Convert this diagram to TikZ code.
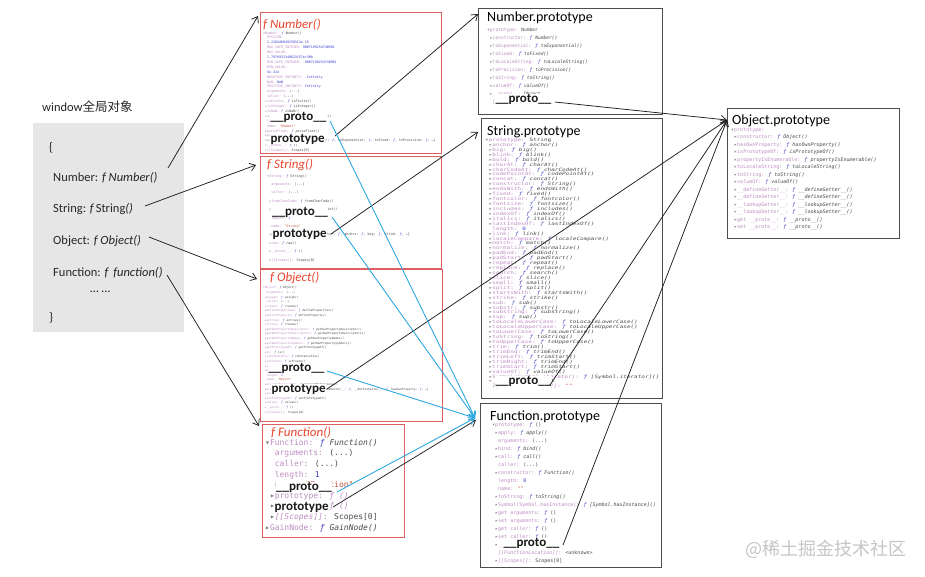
\documentclass[tikz,border=0pt]{standalone}
\usepackage{fontspec}
\setmainfont{Carlito}
\newfontfamily\cjk{Noto Sans CJK SC}
\newfontfamily\cons{DejaVu Sans Mono}
\newfontfamily\consW[FakeStretch=1.33]{DejaVu Sans Mono}
\usetikzlibrary{arrows.meta}
\definecolor{keyc}{HTML}{BE8CC4}
\definecolor{valc}{HTML}{4A4A4A}
\definecolor{fnc}{HTML}{4040C0}
\definecolor{numc}{HTML}{3C3CD2}
\definecolor{strc}{HTML}{C8503C}
\definecolor{trc}{HTML}{7A7A7A}
\definecolor{redbox}{HTML}{DE5F5F}
\definecolor{redtitle}{HTML}{E8452E}
\definecolor{greybox}{HTML}{E6E6E6}
\definecolor{blueline}{HTML}{2EA8E0}
\definecolor{darkbox}{HTML}{4D4D4D}
\definecolor{arrc}{HTML}{1E1E1E}
\definecolor{wmark}{HTML}{C6C6C6}
\newcommand\pK[1]{\textcolor{keyc}{#1}}
\newcommand\pN[1]{\textcolor{numc}{#1}}
\newcommand\pS[1]{\textcolor{strc}{#1}}
\newcommand\fF{\textcolor{fnc}{\textit{ƒ}}}
\newcommand\tR{\textcolor{trc}{▸}}
\newcommand\tD{\textcolor{trc}{▾}}
\newcommand\cI{\hphantom{0}}
\newcommand\pFn[2]{\cI\tR\pK{#1:} \fF\ \textit{#2()}}
\newcommand\pLf[2]{\cI\cI\pK{#1:} #2}
\newcommand\pOb[2]{\cI\tR\pK{#1:} #2}
\tikzset{
  redbx/.style={draw=redbox, line width=1.4pt, anchor=north west, inner sep=0pt},
  blkbx/.style={draw=darkbox, line width=1.1pt, anchor=north west, inner sep=0pt},
  ftitle/.style={anchor=base west, inner sep=0pt, text=redtitle, font=\fontsize{13}{15}\selectfont\itshape},
  ptitle/.style={anchor=base west, inner sep=0pt, text=black, font=\fontsize{14}{17}\selectfont},
  biglbl/.style={anchor=base west, inner sep=0.4pt, fill=white, text=black!90, font=\fontsize{13}{15}\selectfont\bfseries},
  wtext/.style={anchor=base west, inner sep=0pt, text=black!85, font=\fontsize{12.5}{15}\selectfont},
  cons/.style={anchor=north west, inner sep=0pt, align=left, text=valc},
  arr/.style={draw=arrc, line width=0.75pt, -{Straight Barb[length=5.5pt,width=8pt]}},
  barr/.style={draw=blueline, line width=0.9pt, -{Straight Barb[length=5.5pt,width=8pt]}},
}
\begin{document}
\begin{tikzpicture}[x=1pt,y=-1pt]
\useasboundingbox[fill=white] (0,0) rectangle (925,576);

% ---------- window object ----------
\node[wtext] (wTitle) at (42,111) {window{\cjk 全局对象}};
\node[fill=greybox, anchor=north west, inner sep=0pt, minimum width=151pt, minimum height=209pt] (win) at (33,123) {};
\node[wtext] (wOpen) at (49,151) {\{};
\node[wtext] (wNum) at (53,181.5) {Number: \textit{f Number()}};
\node[wtext] (wStr) at (53,212.7) {String: \textit{f\,}String\textit{()}};
\node[wtext] (wObj) at (53,244) {Object: \textit{f Object()}};
\node[wtext] (wFun) at (53,276.7) {Function: \textit{f\, function()}};
\node[wtext] (wDots) at (90,292) {… …};
\node[wtext] (wClose) at (49,321) {\}};

% ---------- constructor boxes ----------
\node[redbx, minimum width=181pt, minimum height=141pt] (numF) at (260,12) {};
\node[redbx, minimum width=181pt, minimum height=112pt] (strF) at (260,156) {};
\node[redbx, minimum width=182pt, minimum height=152pt] (objF) at (260,269) {};
\node[redbx, minimum width=142pt, minimum height=113pt] (funF) at (262,424) {};

\node[ftitle] (numT) at (263,28) {f Number()};
\node[ftitle] (strT) at (267,168.3) {f String()};
\node[ftitle] (objT) at (270,281.7) {f Object()};
\node[ftitle] (funT) at (271,436.7) {f Function()};

\node[cons, font=\cons\fontsize{3.3}{4.9}\selectfont] (numC) at (263,31.3) {%
\tD\pK{Number:} \fF\ \textit{Number()}\\
\pLf{EPSILON}{}\\
\cI\cI\pN{2.220446049250313e-16}\\
\pLf{MAX\_SAFE\_INTEGER}{\pN{9007199254740991}}\\
\pLf{MAX\_VALUE}{}\\
\cI\cI\pN{1.7976931348623157e+308}\\
\pLf{MIN\_SAFE\_INTEGER}{\pN{-9007199254740991}}\\
\pLf{MIN\_VALUE}{}\\
\cI\cI\pN{5e-324}\\
\pLf{NEGATIVE\_INFINITY}{\pN{-Infinity}}\\
\pLf{NaN}{\pN{NaN}}\\
\pLf{POSITIVE\_INFINITY}{\pN{Infinity}}\\
\pLf{arguments}{(...)}\\
\pLf{caller}{(...)}\\
\pFn{isFinite}{isFinite}\\
\pFn{isInteger}{isInteger}\\
\pFn{isNaN}{isNaN}\\
\pFn{isSafeInteger}{isSafeInteger}\\
\pLf{length}{\pN{1}}\\
\pLf{name}{\pS{"Number"}}\\
\pFn{parseFloat}{parseFloat}\\
\pFn{parseInt}{parseInt}\\
\pOb{prototype}{Number \{constructor: \fF, toExponential: \fF, toFixed: \fF, toPrecision: \fF, …\}}\\
\pOb{\_\_proto\_\_}{\fF\ ()}\\
\pOb{[[Scopes]]}{Scopes[0]}};

\node[cons, font=\cons\fontsize{3.4}{8.4}\selectfont] (strC) at (267,174.3) {%
\tD\pK{String:} \fF\ \textit{String()}\\
\pLf{arguments}{(...)}\\
\pLf{caller}{(...)}\\
\pFn{fromCharCode}{fromCharCode}\\
\pFn{fromCodePoint}{fromCodePoint}\\
\pLf{length}{\pN{1}}\\
\pLf{name}{\pS{"String"}}\\
\pOb{prototype}{String \{constructor: \fF, anchor: \fF, big: \fF, blink: \fF, …\}}\\
\pFn{raw}{raw}\\
\pOb{\_\_proto\_\_}{\fF\ ()}\\
\pOb{[[Scopes]]}{Scopes[0]}};

\node[cons, font=\cons\fontsize{2.9}{4.6}\selectfont] (objC) at (263,286.5) {%
\tD\pK{Object:} \fF\ \textit{Object()}\\
\pLf{arguments}{(...)}\\
\pFn{assign}{assign}\\
\pLf{caller}{(...)}\\
\pFn{create}{create}\\
\pFn{defineProperties}{defineProperties}\\
\pFn{defineProperty}{defineProperty}\\
\pFn{entries}{entries}\\
\pFn{freeze}{freeze}\\
\pFn{getOwnPropertyDescriptor}{getOwnPropertyDescriptor}\\
\pFn{getOwnPropertyDescriptors}{getOwnPropertyDescriptors}\\
\pFn{getOwnPropertyNames}{getOwnPropertyNames}\\
\pFn{getOwnPropertySymbols}{getOwnPropertySymbols}\\
\pFn{getPrototypeOf}{getPrototypeOf}\\
\pFn{is}{is}\\
\pFn{isExtensible}{isExtensible}\\
\pFn{isFrozen}{isFrozen}\\
\pFn{isSealed}{isSealed}\\
\pFn{keys}{keys}\\
\pLf{length}{\pN{1}}\\
\pLf{name}{\pS{"Object"}}\\
\pFn{preventExtensions}{preventExtensions}\\
\pOb{prototype}{\{constructor: \fF, \_\_defineGetter\_\_: \fF, \_\_defineSetter\_\_: \fF, hasOwnProperty: \fF, …\}}\\
\pFn{seal}{seal}\\
\pFn{setPrototypeOf}{setPrototypeOf}\\
\pFn{values}{values}\\
\pOb{\_\_proto\_\_}{\fF\ ()}\\
\pOb{[[Scopes]]}{Scopes[0]}};

\node[cons, font=\cons\fontsize{8}{10.6}\selectfont] (funC) at (265,439) {%
\tD\pK{Function:} \fF\ \textit{Function()}\\
\pLf{arguments}{(...)}\\
\pLf{caller}{(...)}\\
\pLf{length}{\pN{1}}\\
\pLf{name}{\pS{"Function"}}\\
\cI\tR\pK{prototype: \textit{ƒ ()}}\\
\cI\tR\pK{\_\_proto\_\_: \textit{ƒ ()}}\\
\cI\tR\pK{\textit{[[Scopes]]}:} Scopes[0]\\
\tR\pK{GainNode:} \fF\ \textit{GainNode()}};

% ---------- prototype boxes ----------
\node[blkbx, minimum width=184pt, minimum height=106pt] (numP) at (478,8) {};
\node[blkbx, minimum width=181pt, minimum height=280pt] (strP) at (481,118) {};
\node[blkbx, minimum width=172pt, minimum height=130pt] (objP) at (727,108) {};
\node[blkbx, minimum width=181pt, minimum height=164pt] (funP) at (480,403) {};

\node[ptitle] (numPT) at (487,21.7) {Number.prototype};
\node[ptitle] (strPT) at (487,135.7) {String.prototype};
\node[ptitle] (objPT) at (732,124.3) {Object.prototype};
\node[ptitle] (funPT) at (490,420.7) {Function.prototype};

\node[cons, font=\cons\fontsize{4.6}{8}\selectfont] (numPC) at (487,27.7) {%
\tD\pK{prototype:} Number\\
\pFn{constructor}{Number}\\
\pFn{toExponential}{toExponential}\\
\pFn{toFixed}{toFixed}\\
\pFn{toLocaleString}{toLocaleString}\\
\pFn{toPrecision}{toPrecision}\\
\pFn{toString}{toString}\\
\pFn{valueOf}{valueOf}\\
\pOb{\_\_proto\_\_}{Object}\\
\cI\cI\pK{\textit{[[PrimitiveValue]]}:} \pN{0}};

\node[cons, font=\consW\fontsize{4.5}{4.93}\selectfont] (strPC) at (485,137.8) {%
\tD\pK{prototype:} String\\
\pFn{anchor}{anchor}\\
\pFn{big}{big}\\
\pFn{blink}{blink}\\
\pFn{bold}{bold}\\
\pFn{charAt}{charAt}\\
\pFn{charCodeAt}{charCodeAt}\\
\pFn{codePointAt}{codePointAt}\\
\pFn{concat}{concat}\\
\pFn{constructor}{String}\\
\pFn{endsWith}{endsWith}\\
\pFn{fixed}{fixed}\\
\pFn{fontcolor}{fontcolor}\\
\pFn{fontsize}{fontsize}\\
\pFn{includes}{includes}\\
\pFn{indexOf}{indexOf}\\
\pFn{italics}{italics}\\
\pFn{lastIndexOf}{lastIndexOf}\\
\pLf{length}{\pN{0}}\\
\pFn{link}{link}\\
\pFn{localeCompare}{localeCompare}\\
\pFn{match}{match}\\
\pFn{normalize}{normalize}\\
\pFn{padEnd}{padEnd}\\
\pFn{padStart}{padStart}\\
\pFn{repeat}{repeat}\\
\pFn{replace}{replace}\\
\pFn{search}{search}\\
\pFn{slice}{slice}\\
\pFn{small}{small}\\
\pFn{split}{split}\\
\pFn{startsWith}{startsWith}\\
\pFn{strike}{strike}\\
\pFn{sub}{sub}\\
\pFn{substr}{substr}\\
\pFn{substring}{substring}\\
\pFn{sup}{sup}\\
\pFn{toLocaleLowerCase}{toLocaleLowerCase}\\
\pFn{toLocaleUpperCase}{toLocaleUpperCase}\\
\pFn{toLowerCase}{toLowerCase}\\
\pFn{toString}{toString}\\
\pFn{toUpperCase}{toUpperCase}\\
\pFn{trim}{trim}\\
\pFn{trimEnd}{trimEnd}\\
\pFn{trimLeft}{trimStart}\\
\pFn{trimRight}{trimEnd}\\
\pFn{trimStart}{trimStart}\\
\pFn{valueOf}{valueOf}\\
\pFn{Symbol(Symbol.iterator)}{[Symbol.iterator]}\\
\pOb{\_\_proto\_\_}{Object}\\
\cI\cI\pK{\textit{[[PrimitiveValue]]}:} \pS{""}};

\node[cons, font=\cons\fontsize{5}{7.5}\selectfont] (objPC) at (731,127.5) {%
\tD\pK{prototype:}\\
\pFn{constructor}{Object}\\
\pFn{hasOwnProperty}{hasOwnProperty}\\
\pFn{isPrototypeOf}{isPrototypeOf}\\
\pFn{propertyIsEnumerable}{propertyIsEnumerable}\\
\pFn{toLocaleString}{toLocaleString}\\
\pFn{toString}{toString}\\
\pFn{valueOf}{valueOf}\\
\pFn{\_\_defineGetter\_\_}{\_\_defineGetter\_\_}\\
\pFn{\_\_defineSetter\_\_}{\_\_defineSetter\_\_}\\
\pFn{\_\_lookupGetter\_\_}{\_\_lookupGetter\_\_}\\
\pFn{\_\_lookupSetter\_\_}{\_\_lookupSetter\_\_}\\
\pFn{get \_\_proto\_\_}{\_\_proto\_\_}\\
\pFn{set \_\_proto\_\_}{\_\_proto\_\_}};

\node[cons, font=\cons\fontsize{5}{8}\selectfont] (funPC) at (492,422.5) {%
\tD\pK{prototype:} \fF\ ()\\
\pFn{apply}{apply}\\
\pLf{arguments}{(...)}\\
\pFn{bind}{bind}\\
\pFn{call}{call}\\
\pLf{caller}{(...)}\\
\pFn{constructor}{Function}\\
\pLf{length}{\pN{0}}\\
\pLf{name}{\pS{""}}\\
\pFn{toString}{toString}\\
\pFn{Symbol(Symbol.hasInstance)}{[Symbol.hasInstance]}\\
\pOb{get arguments}{\fF\ ()}\\
\pOb{set arguments}{\fF\ ()}\\
\pOb{get caller}{\fF\ ()}\\
\pOb{set caller}{\fF\ ()}\\
\pOb{\_\_proto\_\_}{Object}\\
\cI\cI\pK{\textit{[[FunctionLocation]]}:} <unknown>\\
\pOb{\textit{[[Scopes]]}}{Scopes[0]}};

% ---------- big labels ----------
\node[biglbl] (numPro) at (270,120.5) {\_\_proto\_\_};
\node[biglbl] (numPty) at (270,142) {prototype};
\node[biglbl] (strPro) at (271.5,215) {\_\_proto\_\_};
\node[biglbl] (strPty) at (272,237.7) {prototype};
\node[biglbl] (objPro) at (268,371) {\_\_proto\_\_};
\node[biglbl] (objPty) at (271,392.7) {prototype};
\node[biglbl] (funPro) at (275.5,490.7) {\_\_proto\_\_};
\node[biglbl] (funPty) at (274,510.7) {prototype};
\node[biglbl] (numPPro) at (495,102.3) {\_\_proto\_\_};
\node[biglbl] (strPPro) at (495,384.3) {\_\_proto\_\_};
\node[biglbl] (funPPro) at (503,546.7) {\_\_proto\_\_};

% ---------- watermark ----------
\node[anchor=base west, inner sep=0pt, text=wmark, font=\cjk\fontsize{18}{20}\selectfont] (wm) at (745,555) {@稀土掘金技术社区};

% ---------- connector end points ----------
\coordinate (sWN) at (168,168);  \coordinate (tNumF) at (258,16);
\coordinate (sWS) at (145,206);  \coordinate (tStrF) at (256,165);
\coordinate (sWO) at (149,237);  \coordinate (tObjF) at (257,279);
\coordinate (sWF) at (167,275);  \coordinate (tFunF) at (259,426);
\coordinate (sNty) at (335,136); \coordinate (tNumP) at (478,14);
\coordinate (sSty) at (331,234); \coordinate (tStrP) at (478,132);
\coordinate (sOty) at (327,389); \coordinate (tObjP) at (727,120);
\coordinate (sFty) at (333,507); \coordinate (tFunPk) at (476,420);
\coordinate (sNPp) at (555,102);
\coordinate (sSPp) at (550,385);
\coordinate (sFPp) at (563,545);
\coordinate (sNpr) at (330,121); \coordinate (tFunPb) at (475,418);
\coordinate (sSpr) at (332,217);
\coordinate (sOpr) at (327,371);
\coordinate (sFpr) at (337,492);

% ---------- connectors ----------
\draw[arr] (sWN) -- (tNumF);
\draw[arr] (sWS) -- (tStrF);
\draw[arr] (sWO) -- (tObjF);
\draw[arr] (sWF) -- (tFunF);
\draw[arr] (sNty) -- (tNumP);
\draw[arr] (sSty) -- (tStrP);
\draw[arr] (sOty) -- (tObjP);
\draw[arr] (sFty) -- (tFunPk);
\draw[arr] (sNPp) -- (tObjP);
\draw[arr] (sSPp) -- (tObjP);
\draw[arr] (sFPp) -- (tObjP);
\draw[barr] (sNpr) -- (tFunPb);
\draw[barr] (sSpr) -- (tFunPb);
\draw[barr] (sOpr) -- (tFunPb);
\draw[barr] (sFpr) -- (tFunPb);
\end{tikzpicture}
\end{document}
